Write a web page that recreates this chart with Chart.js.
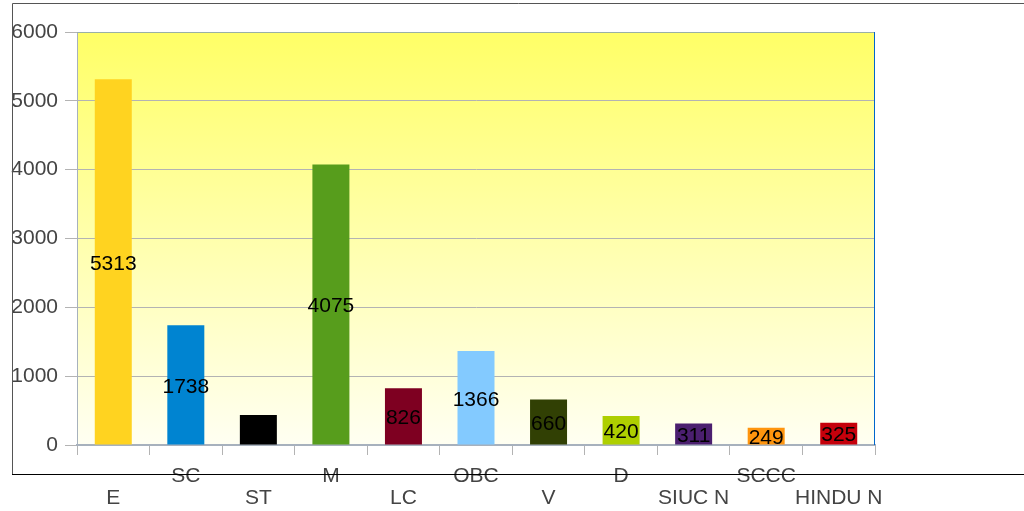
<!DOCTYPE html>
<html>
<head>
<meta charset="utf-8">
<script src="https://cdn.jsdelivr.net/npm/chart.js@4"></script>
<style>
  html, body { margin: 0; padding: 0; background: #fff; }
  #wrap { width: 1024px; height: 511px; }
</style>
</head>
<body>
<div id="wrap"><canvas id="myChart" width="1024" height="511"></canvas></div>
<script>
const categories = ['E', 'SC', 'ST', 'M', 'LC', 'OBC', 'V', 'D', 'SIUC N', 'SCCC', 'HINDU N']
const counts = [5313, 1738, 436, 4075, 826, 1366, 660, 420, 311, 249, 325]
const barColors = ['#ffd320', '#0084d1', '#000000', '#579d1c', '#7e0021', '#83caff', '#314004', '#aecf00', '#4b1f6f', '#ff950e', '#c5000b']
const yTicks = [0, 1000, 2000, 3000, 4000, 5000, 6000]

// staggered labels: even index on the lower row, odd on the upper
const xLabels = categories.map((c, i) => i % 2 === 0 ? ['', c] : [c, ''])

const bgAndFrame = {
    id: 'bgAndFrame',
    beforeDraw(chart) {
        const ctx = chart.ctx
        const a = chart.chartArea
        const g = ctx.createLinearGradient(0, a.top, 0, a.bottom)
        g.addColorStop(0, '#ffff66')
        g.addColorStop(1, '#fffff2')
        ctx.save()
        ctx.fillStyle = g
        ctx.fillRect(a.left, a.top, a.right - a.left, a.bottom - a.top)
        ctx.restore()
    },
    afterDraw(chart) {
        const ctx = chart.ctx
        const a = chart.chartArea
        ctx.save()
        // outer frame
        ctx.lineWidth = 1
        ctx.strokeStyle = '#555555'
        ctx.beginPath()
        ctx.moveTo(12.5, 474)
        ctx.lineTo(12.5, 3.5)
        ctx.lineTo(1024, 3.5)
        ctx.stroke()
        ctx.strokeStyle = '#000000'
        ctx.beginPath()
        ctx.moveTo(12, 474.5)
        ctx.lineTo(1024, 474.5)
        ctx.stroke()
        // plot area top and right edges
        ctx.strokeStyle = '#99b0a6'
        ctx.beginPath()
        ctx.moveTo(a.left, a.top + 0.5)
        ctx.lineTo(a.right, a.top + 0.5)
        ctx.stroke()
        ctx.strokeStyle = '#0066cc'
        ctx.beginPath()
        ctx.moveTo(a.right - 0.5, a.top)
        ctx.lineTo(a.right - 0.5, a.bottom)
        ctx.stroke()

        // value labels in the middle of each bar
        const meta = chart.getDatasetMeta(0)
        ctx.fillStyle = '#000'
        ctx.font = '21px "Liberation Sans", Arial, sans-serif'
        ctx.textAlign = 'center'
        ctx.textBaseline = 'middle'
        meta.data.forEach((bar, i) => {
            const y = (bar.y + bar.base) / 2
            ctx.fillText(String(counts[i]), bar.x, y + 2)
        })
        ctx.restore()
    }
}

const ctx = document.getElementById('myChart').getContext('2d')
const myChart = new Chart(ctx, {
    type: 'bar',
    data: {
        labels: xLabels,
        datasets: [{
            data: counts,
            backgroundColor: barColors,
            borderWidth: 0,
            categoryPercentage: 1,
            barPercentage: 0.51
        }]
    },
    options: {
        responsive: false,
        animation: false,
        layout: { padding: { left: 0, right: 149, top: 32, bottom: 0 } },
        plugins: {
            legend: { display: false },
            tooltip: { enabled: false }
        },
        scales: {
            x: {
                afterFit(scale) { scale.height = 66 },
                grid: {
                    drawOnChartArea: false,
                    drawTicks: true,
                    tickLength: 10,
                    color: '#b3b3b3'
                },
                border: { color: '#a7b1bd', width: 2 },
                ticks: {
                    color: '#444',
                    padding: 10,
                    maxRotation: 0,
                    autoSkip: false,
                    font: { family: '"Liberation Sans", Arial, sans-serif', size: 21, lineHeight: 1.05 }
                }
            },
            y: {
                min: 0,
                max: 6000,
                afterFit(scale) { scale.width = 77 },
                afterBuildTicks(scale) { scale.ticks = yTicks.map(v => ({ value: v })) },
                grid: {
                    color: '#b3b3b3',
                    tickLength: 12
                },
                border: { color: '#a7b1bd', width: 1 },
                ticks: {
                    color: '#444',
                    padding: 7,
                    callback: v => String(v),
                    font: { family: '"Liberation Sans", Arial, sans-serif', size: 21 }
                }
            }
        }
    },
    plugins: [bgAndFrame]
})
</script>
</body>
</html>
